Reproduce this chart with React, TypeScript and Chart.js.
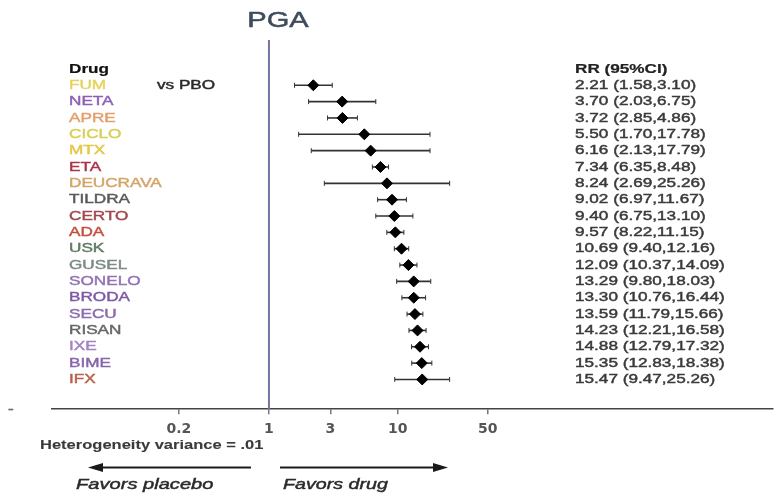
import React, { useEffect, useRef } from "react";
import { Chart, registerables } from "chart.js";

Chart.register(...registerables);

const drugs = ["FUM", "NETA", "APRE", "CICLO", "MTX", "ETA", "DEUCRAVA", "TILDRA", "CERTO", "ADA", "USK", "GUSEL", "SONELO", "BRODA", "SECU", "RISAN", "IXE", "BIME", "IFX"];
const drugColors = ["#e6d35e", "#8e5fb5", "#e3a06e", "#d9cf55", "#e3c84a", "#a8364a", "#d4a569", "#5a5a5a", "#a04a4e", "#c5503f", "#5f7a62", "#7d8a85", "#9473b5", "#7e5aa6", "#8c6cac", "#666666", "#a484c4", "#8866ad", "#b8604c"];
const rr = [2.21, 3.70, 3.72, 5.50, 6.16, 7.34, 8.24, 9.02, 9.40, 9.57, 10.69, 12.09, 13.29, 13.30, 13.59, 14.23, 14.88, 15.35, 15.47];
const lower = [1.58, 2.03, 2.85, 1.70, 2.13, 6.35, 2.69, 6.97, 6.75, 8.22, 9.40, 10.37, 9.80, 10.76, 11.79, 12.21, 12.79, 12.83, 9.47];
const upper = [3.10, 6.75, 4.86, 17.78, 17.79, 8.48, 25.26, 11.67, 13.10, 11.15, 12.16, 14.09, 18.03, 16.44, 15.66, 16.58, 17.32, 18.38, 25.26];
const xTicks = [0.2, 1, 3, 10, 50];
const xRange = [0.0207, 8100];
const yRange = [-2.77, 19.82];

const FF = "'Liberation Sans', Arial, sans-serif";

function txt(ctx: CanvasRenderingContext2D, s: string, x: number, y: number, font: string, color: string, align: CanvasTextAlign = "left", sx = 1.32, stroke = 0.45) {
  ctx.save();
  ctx.font = font;
  ctx.fillStyle = color;
  ctx.strokeStyle = color;
  ctx.lineWidth = stroke;
  ctx.textBaseline = "middle";
  ctx.textAlign = align;
  ctx.translate(x, y);
  ctx.scale(sx, 1);
  ctx.fillText(s, 0, 0);
  if (stroke > 0) ctx.strokeText(s, 0, 0);
  ctx.restore();
}

const forestPlugin = {
  id: "forest",
  beforeDatasetsDraw(chart: any) {
    const ctx = chart.ctx as CanvasRenderingContext2D;
    const xs = chart.scales.x;
    const ys = chart.scales.y;
    const area = chart.chartArea;
    ctx.save();
    ctx.strokeStyle = "#7474a4";
    ctx.lineWidth = 2;
    const x1 = xs.getPixelForValue(1);
    ctx.beginPath();
    ctx.moveTo(x1, area.top);
    ctx.lineTo(x1, area.bottom);
    ctx.stroke();
    ctx.strokeStyle = "#333";
    for (let i = 0; i < rr.length; i++) {
      const y = ys.getPixelForValue(i);
      const a = xs.getPixelForValue(lower[i]);
      const b = xs.getPixelForValue(upper[i]);
      ctx.lineWidth = 1.6;
      ctx.beginPath();
      ctx.moveTo(a, y);
      ctx.lineTo(b, y);
      ctx.stroke();
      ctx.lineWidth = 1;
      ctx.beginPath();
      ctx.moveTo(a, y - 2.5);
      ctx.lineTo(a, y + 2.5);
      ctx.moveTo(b, y - 2.5);
      ctx.lineTo(b, y + 2.5);
      ctx.stroke();
    }
    ctx.restore();
  },
  afterDraw(chart: any) {
    const ctx = chart.ctx as CanvasRenderingContext2D;
    const ys = chart.scales.y;
    const xs = chart.scales.x;
    const hy = ys.getPixelForValue(-1);
    txt(ctx, "PGA", 278, 21, `22px ${FF}`, "#3d4b5c", "center", 1.32, 0.5);
    txt(ctx, "Drug", 69, hy, `bold 13px ${FF}`, "#111", "left", 1.32, 0.2);
    txt(ctx, "RR (95%CI)", 575, hy, `bold 13px ${FF}`, "#222", "left", 1.32, 0.2);
    for (let i = 0; i < drugs.length; i++) {
      const y = ys.getPixelForValue(i);
      txt(ctx, drugs[i], 69, y, `13px ${FF}`, drugColors[i]);
      const s = `${rr[i].toFixed(2)} (${lower[i].toFixed(2)},${upper[i].toFixed(2)})`;
      txt(ctx, s, 575, y, `13px ${FF}`, "#3a3a3a");
    }
    txt(ctx, "vs PBO", 157, ys.getPixelForValue(0), `13px ${FF}`, "#2a2a2a");
    const axisY = chart.chartArea.bottom;
    txt(ctx, "-", 8, axisY, `13px ${FF}`, "#666");
    txt(ctx, "Heterogeneity variance = .01", 40, 445, `bold 13px ${FF}`, "#3a3a3a", "left", 1.27, 0.1);
    const x1 = xs.getPixelForValue(1);
    const ay = 467.5;
    ctx.save();
    ctx.strokeStyle = "#1a1a1a";
    ctx.fillStyle = "#1a1a1a";
    ctx.lineWidth = 2;
    ctx.beginPath();
    ctx.moveTo(x1 - 18, ay);
    ctx.lineTo(100, ay);
    ctx.moveTo(x1 + 11, ay);
    ctx.lineTo(436, ay);
    ctx.stroke();
    ctx.beginPath();
    ctx.moveTo(88, ay);
    ctx.lineTo(103, ay - 4.5);
    ctx.lineTo(103, ay + 4.5);
    ctx.closePath();
    ctx.fill();
    ctx.beginPath();
    ctx.moveTo(448, ay);
    ctx.lineTo(433, ay - 4.5);
    ctx.lineTo(433, ay + 4.5);
    ctx.closePath();
    ctx.fill();
    ctx.restore();
    txt(ctx, "Favors placebo", 76, 485, `italic 15px ${FF}`, "#2a2a2a", "left", 1.34);
    txt(ctx, "Favors drug", 283, 485, `italic 15px ${FF}`, "#2a2a2a", "left", 1.31);
  },
};

export default function App() {
  const ref = useRef<HTMLCanvasElement>(null);
  useEffect(() => {
    if (!ref.current) return;
    const chart = new Chart(ref.current, {
      type: "scatter",
      data: {
        datasets: [
          {
            data: rr.map((v, i) => ({ x: v, y: i })),
            backgroundColor: "#000",
            borderColor: "#000",
            pointStyle: "rectRot",
            pointRadius: 5.5,
            pointHoverRadius: 5.5,
          },
        ],
      },
      options: {
        responsive: false,
        animation: false,
        events: [],
        layout: { padding: { left: 52, right: 0, top: 40, bottom: 52 } },
        plugins: { legend: { display: false }, tooltip: { enabled: false } },
        scales: {
          x: {
            type: "logarithmic",
            bounds: "data",
            min: xRange[0],
            max: xRange[1],
            afterBuildTicks: (scale: any) => {
              scale.ticks = xTicks.map((v) => ({ value: v }));
            },
            ticks: {
              autoSkip: false,
              maxRotation: 0,
              padding: 7,
              color: "#555",
              font: { family: "'DejaVu Sans', sans-serif", size: 14, weight: "bold" },
              callback: (v: any) => String(v),
            },
            grid: { display: true, drawOnChartArea: false, drawTicks: true, tickLength: 5, color: "#777", lineWidth: 1.5 },
            border: { display: true, color: "#444", width: 1.5 },
          },
          y: {
            type: "linear",
            display: false,
            reverse: true,
            min: yRange[0],
            max: yRange[1],
          },
        },
      },
      plugins: [forestPlugin],
    });
    return () => chart.destroy();
  }, []);
  return (
    <div style={{ position: "absolute", left: 0, top: 0, width: 779, height: 497, background: "#fff" }}>
      <canvas ref={ref} width={779} height={497} />
    </div>
  );
}
